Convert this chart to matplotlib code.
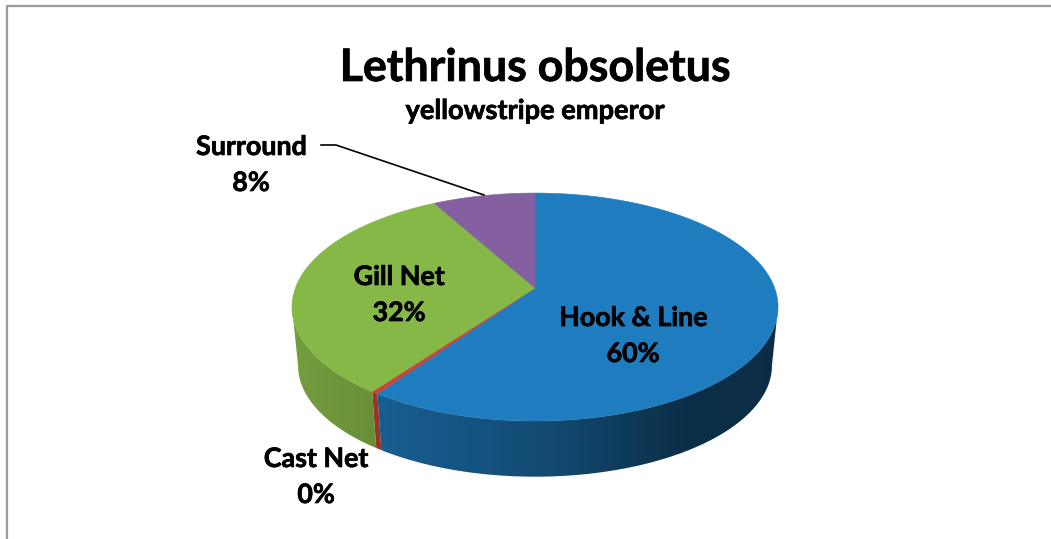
import numpy as np
import matplotlib
matplotlib.use("Agg")
import matplotlib.pyplot as plt
import matplotlib.patheffects as pe
from matplotlib.patches import Polygon
from matplotlib.colors import to_rgb

# Data
gears = ["Hook & Line", "Cast Net", "Gill Net", "Surround"]
shares = [59.6, 0.4, 32.0, 8.0]
top_colors = ["#1f7cbf", "#c9443b", "#86b848", "#8460a0"]
title = "Lethrinus obsoletus"
subtitle = "yellowstripe emperor"

plt.rcParams["font.family"] = ["Lato", "DejaVu Sans"]
plt.rcParams["font.weight"] = "bold"

W, H = 1051, 539
fig = plt.figure(figsize=(W / 100, H / 100), dpi=100)
ax = fig.add_axes([0, 0, 1, 1])

# Pie geometry in pixels, with a small perspective factor
CX, APEX_Y, RX, RY, K = 535.0, 288.0, 239.6, 110.8, -0.167
DEPTH, BOTTOM_SCALE = 59.0, 0.975


def rim(theta, scale=1.0, drop=0.0):
    d = 1 - K * np.cos(theta)
    x = CX + scale * RX * np.sin(theta) / d
    y = APEX_Y + drop - scale * RY * np.cos(theta) / d
    return x, y


def shade(x):
    return np.interp(x, [292, 372, 378, 550, 680, 778], [0.86, 0.78, 0.76, 0.6, 0.38, 0.36])


edges = np.radians(np.cumsum([0] + shares) / sum(shares) * 360)

# The wall is visible between the two widest points of the rim
widest = np.arccos(K)

# Side wall: horizontal gradient clipped to the wall outline
for start, end, color in zip(edges[:-1], edges[1:], top_colors):
    lo, hi = max(start, widest), min(end, 2 * np.pi - widest)
    if hi <= lo:
        continue
    t = np.linspace(lo, hi, 200)
    xt, yt = rim(t)
    xb, yb = rim(t, BOTTOM_SCALE, DEPTH)
    outline = np.vstack([np.column_stack([xt, yt]), np.column_stack([xb, yb])[::-1]])
    wall = Polygon(outline, closed=True, facecolor="none", edgecolor="none", transform=ax.transData)
    ax.add_patch(wall)
    x0, x1 = outline[:, 0].min() - 2, outline[:, 0].max() + 2
    y0, y1 = outline[:, 1].min() - 2, outline[:, 1].max() + 2
    px = np.linspace(x0, x1, 400)
    grad = (np.array(to_rgb(color))[None, :] * shade(px)[:, None])[None, :, :]
    im = ax.imshow(grad, extent=(x0, x1, y1, y0), aspect="auto", zorder=2, interpolation="bilinear")
    im.set_clip_path(wall)

ax.set_xlim(0, W)
ax.set_ylim(H, 0)
ax.axis("off")

# Top face
for start, end, color in zip(edges[:-1], edges[1:], top_colors):
    t = np.linspace(start, end, max(3, int(np.degrees(end - start) * 2)))
    xs, ys = rim(t)
    pts = [(CX, APEX_Y)] + list(zip(xs, ys))
    ax.add_patch(Polygon(pts, closed=True, facecolor=color, edgecolor=color,
                         linewidth=0.4, zorder=3))

# Frame (only top and left show in the picture)
ax.plot([7, 7, W], [H, 6, 6], color="#9a9a9a", linewidth=1.6, zorder=1)

# A thin stroke gives the heavier look of the original lettering
heavy = [pe.withStroke(linewidth=0.5, foreground="black")]

# Titles
ax.text(535, 68, title, fontsize=32.2, ha="center", va="center", color="black",
        zorder=5, path_effects=heavy)
ax.text(535, 111, subtitle, fontsize=19.6, ha="center", va="center", color="black",
        zorder=5, path_effects=heavy)

# Slice labels
label_pos = [(633, 336), (316, 477), (399, 295), (251, 165)]
for name, share, (lx, ly) in zip(gears, shares, label_pos):
    ax.text(lx, ly, f"{name}\n{share:.0f}%", fontsize=19.3, ha="center", va="center",
            color="black", linespacing=1.6, zorder=5, path_effects=heavy)

# Leader line for Surround
ax.plot([321, 336, 484], [145, 145, 195], color="black", linewidth=1.2, zorder=4)

fig.savefig("out.png", dpi=100, facecolor="white")
